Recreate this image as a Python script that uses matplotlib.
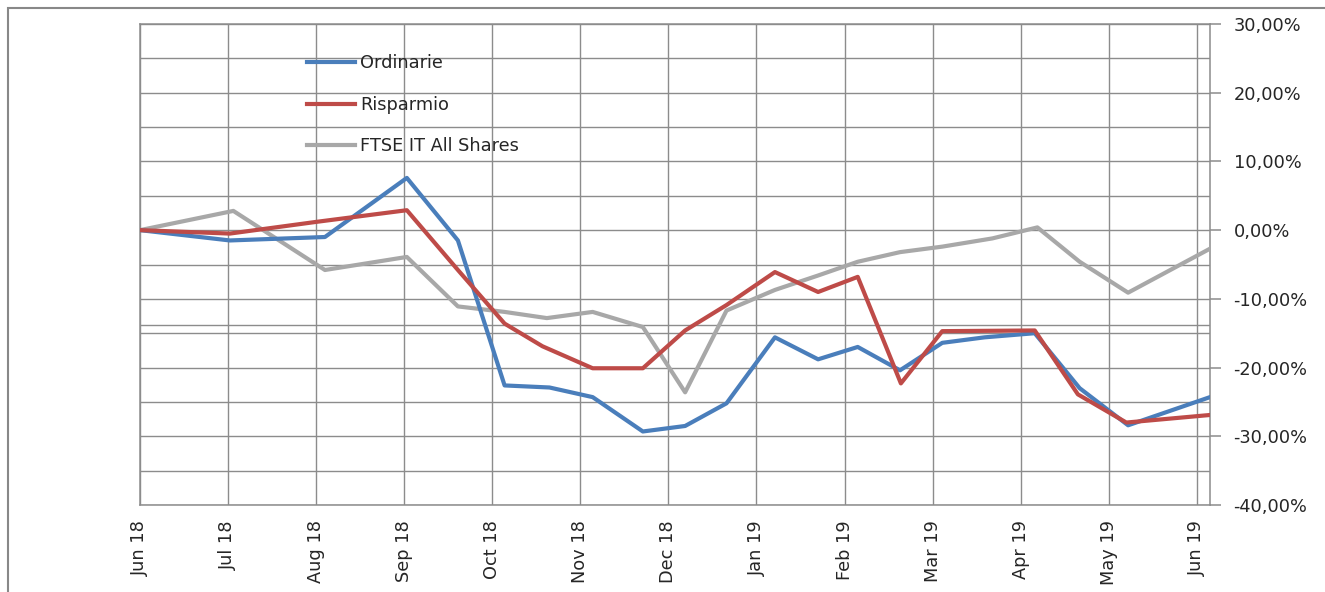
import matplotlib.pyplot as plt
from matplotlib.patches import Rectangle
from matplotlib.ticker import FixedLocator, FuncFormatter

# x = months since Jun 18, y = cumulative return in %
months = ["Jun 18", "Jul 18", "Aug 18", "Sep 18", "Oct 18", "Nov 18", "Dec 18",
          "Jan 19", "Feb 19", "Mar 19", "Apr 19", "May 19", "Jun 19"]

t_ord = [0.0, 1.02, 2.10, 3.03, 3.61, 4.14, 4.65, 5.14, 5.71, 6.19, 6.66,
         7.21, 7.70, 8.15, 8.63, 9.11, 9.59, 10.16, 10.67, 11.22, 12.15]
ordinarie = [0.0, -1.5, -1.0, 7.6, -1.5, -22.6, -22.9, -24.3, -29.3, -28.5, -25.2,
             -15.6, -18.8, -17.0, -20.4, -16.4, -15.6, -15.0, -23.0, -28.4, -24.3]

t_risp = [0.0, 1.02, 2.0, 3.03, 3.61, 4.14, 4.57, 5.14, 5.71, 6.19, 6.66,
          7.21, 7.70, 8.15, 8.64, 9.11, 10.16, 10.65, 11.20, 12.15]
risparmio = [0.0, -0.5, 1.2, 2.9, -5.8, -13.6, -16.9, -20.1, -20.1, -14.6, -10.9,
             -6.1, -9.0, -6.8, -22.3, -14.7, -14.6, -23.9, -28.0, -26.9]

t_ftse = [0.0, 1.06, 2.10, 3.03, 3.61, 4.14, 4.62, 5.14, 5.71, 6.19, 6.66,
          7.21, 7.70, 8.15, 8.63, 9.11, 9.68, 10.19, 10.67, 11.22, 12.15]
ftse = [0.0, 2.8, -5.8, -3.9, -11.1, -11.9, -12.8, -11.9, -14.1, -23.6, -11.7,
        -8.7, -6.6, -4.6, -3.2, -2.4, -1.2, 0.4, -4.6, -9.1, -2.7]

extra_line = -13.8  # stray horizontal line in the original

grid_c = "#8c8c8c"
plt.rcParams["font.family"] = "DejaVu Sans"

fig = plt.figure(figsize=(13.25, 5.92), dpi=100)
ax = fig.add_axes([140 / 1325, 1 - 505 / 592, 1070 / 1325, 481 / 592])

ax.plot(t_ord, ordinarie, color="#4a7ebb", lw=3, label="Ordinarie", zorder=4)
ax.plot(t_risp, risparmio, color="#be4b48", lw=3, label="Risparmio", zorder=4)
ax.plot(t_ftse, ftse, color="#a8a8a8", lw=3, label="FTSE IT All Shares", zorder=3)

ax.set_xlim(0, 12.15)
ax.set_ylim(-40, 30)

ax.xaxis.set_major_locator(FixedLocator(range(len(months))))
ax.set_xticklabels(months, rotation=90, fontsize=12.8, color="#262626")
ax.tick_params(axis="x", length=0, pad=11)

ax.yaxis.tick_right()
ax.yaxis.set_major_locator(FixedLocator(range(-40, 31, 10)))
ax.yaxis.set_minor_locator(FixedLocator(range(-35, 30, 10)))
ax.yaxis.set_major_formatter(FuncFormatter(lambda v, p: ("%.2f%%" % v).replace(".", ",")))
ax.tick_params(axis="y", which="major", length=8, width=1.1, color=grid_c,
               labelsize=12.8, labelcolor="#262626", pad=9)
ax.tick_params(axis="y", which="minor", length=0)

ax.grid(True, which="both", color=grid_c, lw=1.0)
ax.axhline(extra_line, color=grid_c, lw=1.0, zorder=1)
ax.set_axisbelow(True)
for s in ax.spines.values():
    s.set_color(grid_c)
    s.set_linewidth(1.1)

ax.legend(loc="upper left", bbox_to_anchor=(0.156, 0.937), frameon=False,
          fontsize=12.8, handlelength=2.7, handletextpad=0.3, labelspacing=1.32,
          borderpad=0, borderaxespad=0, labelcolor="#262626")

fig.patches.append(Rectangle((8 / 1325, -0.1), 1.2, 1.1 - 8 / 592, transform=fig.transFigure,
                             fill=False, edgecolor="#888888", lw=1.5))

fig.savefig("out.png", dpi=100)
